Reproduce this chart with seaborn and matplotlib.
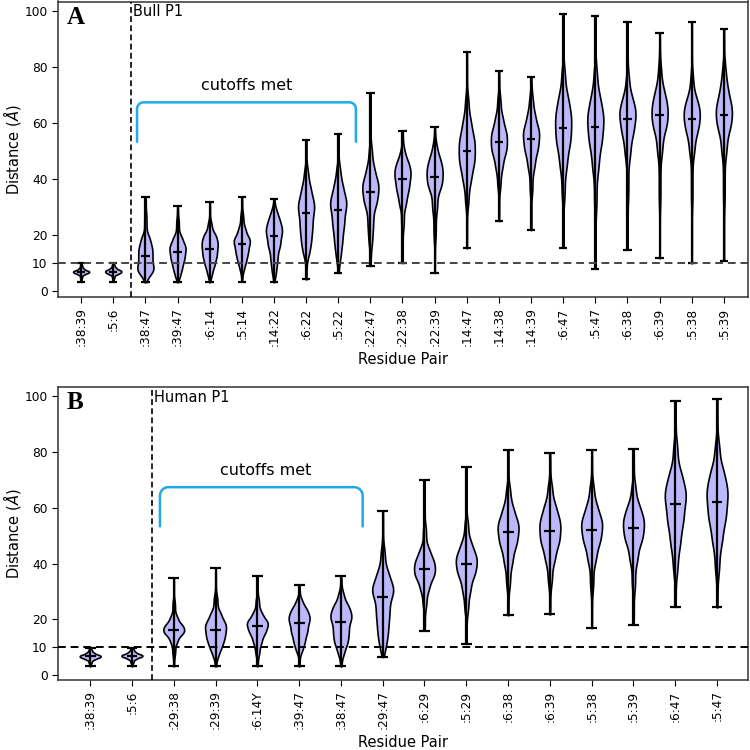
import numpy as np
import pandas as pd
import matplotlib
matplotlib.use("Agg")
import matplotlib.pyplot as plt
import seaborn as sns

# ---------------- data ----------------
# Each violin is described by its quantiles at these probability levels
P_LEVELS = [0.0, 0.02, 0.10, 0.25, 0.50, 0.75, 0.90, 0.98, 1.0]

pairs_a = [":38:39", ":5:6", ":38:47", ":39:47", ":6:14", ":5:14", ":14:22",
           ":6:22", ":5:22", ":22:47", ":22:38", ":22:39", ":14:47", ":14:38",
           ":14:39", ":6:47", ":5:47", ":6:38", ":6:39", ":5:38", ":5:39"]
quant_a = [
    [3.3, 4.5, 5.8, 6.4, 6.9, 7.4, 8.2, 9.3, 10.0],
    [3.3, 4.5, 5.8, 6.4, 7.0, 7.6, 8.4, 9.4, 10.0],
    [3.2, 5.0, 6.8, 8.5, 12.5, 16.5, 20.0, 28.0, 33.6],
    [3.2, 5.0, 7.5, 10.5, 14.0, 17.0, 20.0, 26.0, 30.4],
    [3.2, 5.5, 8.5, 11.5, 15.2, 18.5, 21.0, 25.0, 31.9],
    [3.4, 7.0, 10.0, 13.0, 16.7, 19.5, 23.0, 28.0, 33.6],
    [3.2, 6.0, 10.0, 15.0, 19.8, 23.5, 26.5, 29.5, 32.9],
    [4.2, 12.0, 16.0, 21.0, 27.8, 33.0, 38.0, 44.0, 54.0],
    [6.5, 11.0, 16.0, 22.0, 29.0, 34.0, 39.0, 45.0, 56.0],
    [9.0, 16.0, 22.0, 30.0, 35.5, 40.0, 45.0, 52.0, 70.6],
    [10.0, 22.0, 30.0, 35.0, 40.0, 44.0, 47.0, 51.0, 57.0],
    [6.5, 18.0, 28.0, 36.0, 40.7, 45.0, 48.5, 53.0, 58.7],
    [15.3, 30.0, 38.0, 44.0, 50.0, 56.0, 62.0, 70.0, 85.5],
    [25.0, 36.0, 43.0, 48.5, 53.3, 58.0, 63.0, 70.0, 78.6],
    [21.8, 34.0, 43.0, 49.0, 54.4, 59.0, 64.0, 70.0, 76.4],
    [15.5, 32.0, 43.0, 51.0, 58.3, 65.0, 71.0, 80.0, 99.0],
    [8.0, 28.0, 42.0, 51.0, 58.7, 65.0, 71.0, 80.0, 98.3],
    [14.8, 32.0, 47.0, 55.0, 61.3, 66.0, 70.5, 78.0, 96.0],
    [11.7, 30.0, 48.0, 57.0, 62.7, 68.0, 73.0, 81.0, 92.3],
    [9.9, 30.0, 48.0, 56.0, 61.5, 66.0, 70.0, 78.0, 96.0],
    [10.9, 30.0, 48.0, 57.0, 62.8, 68.0, 74.0, 81.0, 93.5],
]

pairs_b = [":38:39", ":5:6", ":29:38", ":29:39", ":6:14Y", ":39:47", ":38:47",
           ":29:47", ":6:29", ":5:29", ":6:38", ":6:39", ":5:38", ":5:39",
           ":6:47", ":5:47"]
quant_b = [
    [3.2, 4.3, 5.5, 6.2, 6.8, 7.4, 8.2, 9.2, 9.8],
    [3.2, 4.3, 5.6, 6.4, 7.0, 7.6, 8.4, 9.3, 9.8],
    [3.2, 7.0, 11.5, 14.5, 16.4, 18.5, 21.5, 27.0, 35.0],
    [3.2, 6.5, 9.5, 12.5, 16.2, 19.5, 23.0, 29.0, 38.4],
    [3.2, 7.0, 11.0, 14.5, 17.6, 20.0, 23.0, 28.0, 35.6],
    [3.2, 8.0, 11.0, 14.5, 18.7, 22.0, 24.5, 27.5, 32.3],
    [3.2, 7.0, 10.5, 14.0, 19.2, 23.0, 26.0, 30.0, 35.4],
    [6.6, 9.5, 14.0, 20.0, 28.2, 33.0, 38.0, 46.0, 59.0],
    [16.0, 24.0, 30.0, 34.5, 38.2, 42.0, 46.0, 54.0, 69.8],
    [11.3, 22.0, 29.0, 35.0, 39.8, 44.0, 48.5, 56.0, 74.6],
    [21.5, 31.0, 39.0, 45.5, 51.2, 56.0, 61.0, 68.0, 80.7],
    [21.8, 32.0, 40.0, 46.0, 51.7, 57.0, 62.0, 69.0, 79.6],
    [16.9, 30.0, 40.0, 46.5, 52.2, 57.0, 62.0, 69.0, 80.8],
    [18.1, 30.0, 40.0, 47.0, 52.6, 57.5, 62.0, 69.0, 81.2],
    [24.5, 36.0, 45.0, 53.0, 61.5, 68.0, 74.0, 84.0, 98.4],
    [24.3, 36.0, 46.0, 54.0, 62.1, 69.0, 75.0, 84.0, 98.9],
]

yticks = [0, 10, 20, 40, 60, 80, 100]
cutoff = 10

# ---------------- style ----------------
FILL = "#bdb8fb"
BRACKET = "#1eaaea"
plt.rcParams["font.family"] = ["DejaVu Sans"]


def to_long(pairs, quants, n=800):
    u = np.linspace(0, 1, n)
    rows = []
    for name, q in zip(pairs, quants):
        vals = np.interp(u, P_LEVELS, q)
        rows.append(pd.DataFrame({"pair": name, "dist": vals}))
    return pd.concat(rows, ignore_index=True)


def draw_panel(ax, pairs, quants, letter, label, vline_x, xlim, ylim,
               bracket_x, bracket_text_x, hcolor):
    df = to_long(pairs, quants)
    sns.violinplot(data=df, x="pair", y="dist", order=pairs, color=FILL,
                   saturation=1, inner=None, cut=0, density_norm="width",
                   width=0.5, linewidth=1.2, linecolor="black",
                   bw_adjust=0.9, ax=ax)
    # extrema and medians (matplotlib-violinplot style)
    for i, name in enumerate(pairs):
        d = df.loc[df["pair"] == name, "dist"]
        lo, hi, med = d.min(), d.max(), d.median()
        ax.vlines(i, lo, hi, color="black", lw=1.6, zorder=3)
        ax.hlines([lo, hi, med], i - 0.13, i + 0.13, color="black", lw=1.6,
                  zorder=3)
    ax.axhline(cutoff, color=hcolor, ls=(0, (4, 2.5)), lw=1.4, zorder=4)
    ax.axvline(vline_x, color="black", ls=(0, (3.5, 2)), lw=1.2, zorder=4)
    ax.set_xlim(*xlim)
    ax.set_ylim(*ylim)
    ax.set_yticks(yticks)
    ax.tick_params(axis="x", labelrotation=90, labelsize=8.7, length=4)
    ax.tick_params(axis="y", labelsize=8.8, length=4)
    ax.set_xlabel("Residue Pair", fontsize=10.5, labelpad=4)
    ax.set_ylabel(r"Distance ($\AA$)", fontsize=10.5)
    ax.yaxis.set_label_coords(-0.05, 0.5)
    for s in ax.spines.values():
        s.set_color("#333333")
        s.set_linewidth(1.1)
    ax.text(vline_x + 0.05, ylim[1] - 1.0, label, ha="left", va="top",
            fontsize=10.5)
    ax.text(0.012, 0.985, letter, transform=ax.transAxes, ha="left", va="top",
            fontsize=18, fontweight="bold", family="Liberation Serif")
    # bracket
    x1, x2 = bracket_x
    ytop, ybot, r = 67.4, 53.0, 0.2
    t = np.linspace(0, np.pi / 2, 12)
    ry = r * 32 / (xlim[1] - xlim[0]) * 8.0
    left_arc_x = x1 + r * (1 - np.cos(t))
    left_arc_y = ytop - ry * (1 - np.sin(t))
    right_arc_x = x2 - r * (1 - np.cos(t[::-1]))
    right_arc_y = ytop - ry * (1 - np.sin(t[::-1]))
    bx = np.concatenate([[x1], left_arc_x, right_arc_x, [x2]])
    by = np.concatenate([[ybot], left_arc_y, right_arc_y, [ybot]])
    ax.plot(bx, by, color=BRACKET, lw=1.8, solid_capstyle="butt", zorder=5)
    ax.text(bracket_text_x, ytop + 3.2, "cutoffs met", ha="center",
            va="bottom", fontsize=11.5)


fig = plt.figure(figsize=(7.5, 7.5), dpi=100)
ax_a = fig.add_axes([0.0773, 0.604, 0.92, 0.394])
ax_b = fig.add_axes([0.0773, 0.0933, 0.92, 0.3907])

draw_panel(ax_a, pairs_a, quant_a, "A", "Bull P1", 1.55, (-0.72, 20.75),
           (-2.1, 103.4), (1.74, 8.55), 5.15, "#444444")
draw_panel(ax_b, pairs_b, quant_b, "B", "Human P1", 1.48, (-0.77, 15.74),
           (-1.7, 103.3), (1.67, 6.52), 4.2, "black")

fig.savefig("out.png", dpi=100)
